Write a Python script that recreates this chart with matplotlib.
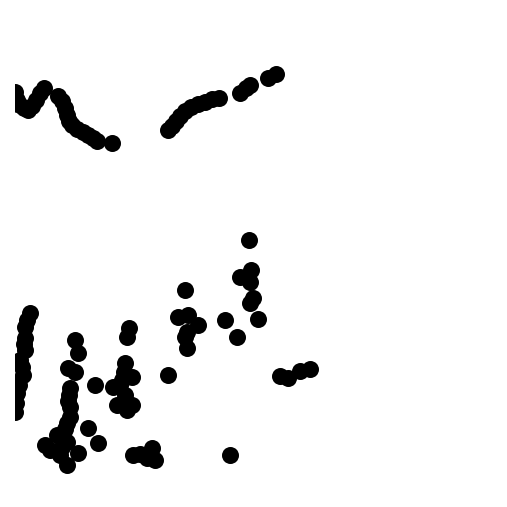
import numpy as np
import matplotlib
matplotlib.use("Agg")
import matplotlib.pyplot as plt

# upper arc (left part)
arc1_x = [10, 13, 15, 17, 20, 24, 28, 32, 36, 40, 44]
arc1_y = [402, 412, 415, 407, 402, 399, 397, 401, 407, 414, 419]

# upper arc (middle part)
arc2_x = [58, 62, 65, 67, 69, 72, 77, 83, 88, 93, 97, 112]
arc2_y = [411, 406, 399, 392, 386, 382, 378, 375, 372, 369, 366, 364]

# upper right rising line
arc3_x = [168, 172, 176, 180, 185, 191, 198, 205, 212, 219, 240, 246, 250, 268, 276]
arc3_y = [377, 381, 386, 391, 396, 400, 403, 405, 408, 409, 414, 419, 422, 429, 433]

# lower scatter
low_x = [30, 27, 25, 25, 24, 25, 20, 22, 23, 19, 17, 16, 15, 18,
         75, 78, 68, 75, 70, 69, 70, 67, 63, 57, 45, 50, 62, 67, 78, 67, 60, 65, 70, 68,
         95, 88, 98,
         129, 127, 125, 124, 132, 122, 113, 120, 125, 117, 127, 132,
         168, 133, 140, 147, 152, 155, 230,
         185, 178, 188, 198, 187, 185, 187,
         249, 240, 251, 250, 253, 250, 258, 225, 237,
         280, 288, 300, 310]
low_y = [194, 187, 180, 169, 163, 157, 147, 140, 132, 122, 114, 104, 95, 125,
         167, 154, 139, 135, 119, 112, 100, 84, 74, 72, 62, 57, 60, 65, 54, 42, 52, 78, 90, 106,
         122, 79, 64,
         179, 170, 144, 135, 130, 127, 120, 122, 112, 102, 97, 102,
         132, 52, 53, 49, 59, 47, 52,
         217, 190, 192, 182, 175, 170, 159,
         267, 230, 237, 225, 209, 204, 188, 187, 170,
         131, 129, 136, 138]

fig = plt.figure(figsize=(5.07, 5.07), dpi=100)
ax = fig.add_axes([15 / 507, 0, 1 - 15 / 507, 1])
for xs, ys in [(arc1_x, arc1_y), (arc2_x, arc2_y), (arc3_x, arc3_y), (low_x, low_y)]:
    ax.scatter(xs, ys, s=150, c='black', linewidths=0)
ax.set_xlim(15, 507)
ax.set_ylim(0, 507)
ax.axis('off')
fig.savefig('out.png', dpi=100)
